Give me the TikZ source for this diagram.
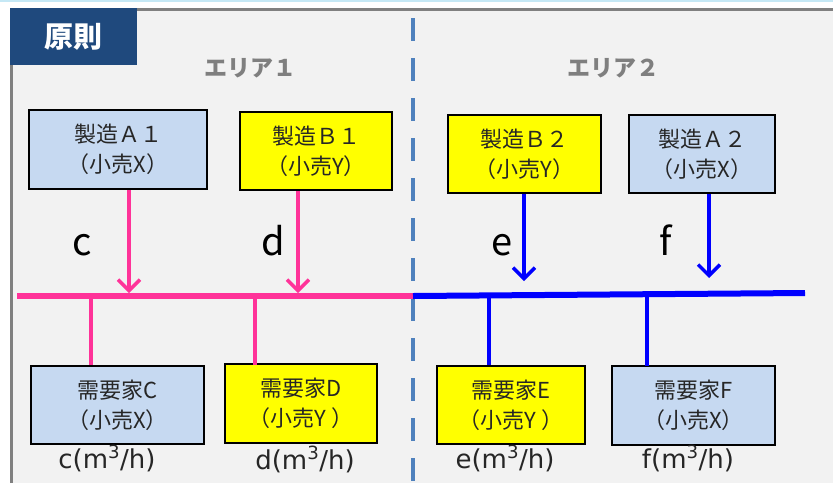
\documentclass[tikz,border=0pt]{standalone}
\usepackage{fontspec}
\setmainfont{Noto Sans CJK JP}
\newfontfamily\jp{Noto Sans CJK JP}
\newfontfamily\dv{DejaVu Sans}
\usetikzlibrary{arrows.meta}
\definecolor{framegray}{HTML}{808080}
\definecolor{bggray}{HTML}{F2F2F2}
\definecolor{titleblue}{HTML}{1F497D}
\definecolor{lightblue}{HTML}{C6D9F1}
\definecolor{boxyellow}{HTML}{FFFF00}
\definecolor{pinkline}{HTML}{FF3399}
\definecolor{blueline}{HTML}{0000FF}
\definecolor{dashblue}{HTML}{4F81BD}
\definecolor{areagray}{HTML}{7F7F7F}
\definecolor{txt}{HTML}{262626}
\definecolor{topline}{HTML}{C5E8F5}
\tikzset{
  box/.style={draw=black, line width=2pt, inner sep=0pt, align=center,
    font=\jp\fontsize{22}{30}\selectfont, text=txt},
  bluebox/.style={box, fill=lightblue},
  yellowbox/.style={box, fill=boxyellow},
  pinkw/.style={draw=pinkline, line width=4pt},
  bluew/.style={draw=blueline, line width=4.5pt},
  arr/.style={-{Straight Barb[length=11pt,width=22pt,line width=3.5pt]}},
  flowlbl/.style={anchor=base, font=\jp\fontsize{38}{40}\selectfont, text=black},
  unitlbl/.style={anchor=base, font=\dv\fontsize{26}{28}\selectfont, text=txt},
  arealbl/.style={font=\jp\bfseries\fontsize{23}{25}\selectfont, text=areagray},
}
\begin{document}
\begin{tikzpicture}[x=1pt,y=-1pt]
\useasboundingbox (0,0) rectangle (833,483);
% background and frame
\fill[white] (0,0) rectangle (833,483);
\fill[topline] (0,0) rectangle (833,1.5);
\fill[bggray] (11,9) rectangle (833,483);
\draw[framegray, line width=3pt] (11,483) -- (11,9.5) -- (833,9.5);
\fill[titleblue] (10,8) rectangle (137,65);
\node[text=white, font=\jp\bfseries\fontsize{29}{30}\selectfont] (title) at (73,37) {原則};
% area labels
\node[arealbl] (area1) at (250,68) {エリア１};
\node[arealbl] (area2) at (613,68) {エリア２};
% dashed divider
\coordinate (divT) at (413,18);
\coordinate (divB) at (413,483);
\draw[dashblue, line width=4pt, dash pattern=on 23pt off 17pt] (divT) -- (divB);
% bus lines
\coordinate (busL) at (17,296);
\coordinate (busM) at (413,296);
\coordinate (busR) at (805,293);
\draw[pinkline, line width=6pt] (busL) -- (busM);
\draw[blueline, line width=6pt] (busM) -- (busR);
% producer boxes
\node[bluebox, minimum width=178pt, minimum height=79pt] (A1) at (118,149.5) {製造Ａ１\\（小売X）};
\node[yellowbox, minimum width=152pt, minimum height=78pt] (B1) at (316,151) {製造Ｂ１\\（小売Y）};
\node[yellowbox, minimum width=153pt, minimum height=78pt] (B2) at (524.5,154) {製造Ｂ２\\（小売Y）};
\node[bluebox, minimum width=146pt, minimum height=78pt] (A2) at (702,154) {製造Ａ２\\（小売X）};
% consumer boxes
\node[bluebox, minimum width=173pt, minimum height=78pt] (C) at (117.5,405) {需要家C\\（小売X）};
\node[yellowbox, minimum width=152pt, minimum height=79pt] (D) at (301,403.5) {需要家D\\（小売Y ）};
\node[yellowbox, minimum width=148pt, minimum height=78pt] (E) at (511,405) {需要家E\\（小売Y ）};
\node[bluebox, minimum width=163pt, minimum height=79pt] (F) at (693.5,405.5) {需要家F\\（小売X）};
% supply arrows
\coordinate (inA1) at (129,293);
\coordinate (inB1) at (298,293);
\coordinate (inB2) at (524,281);
\coordinate (inA2) at (709,278);
\draw[pinkw, arr] (A1.south -| inA1) -- (inA1);
\draw[pinkw, arr] (B1.south -| inB1) -- (inB1);
\draw[bluew, arr] (B2.south -| inB2) -- (inB2);
\draw[bluew, arr] (A2.south -| inA2) -- (inA2);
% demand drops
\coordinate (outC) at (91,296);
\coordinate (outD) at (255,296);
\coordinate (outE) at (489,295);
\coordinate (outF) at (647,294);
\draw[pinkw] (outC) -- (C.north -| outC);
\draw[pinkw] (outD) -- ([yshift=-2pt]D.north -| outD);
\draw[bluew] (outE) -- (E.north -| outE);
\draw[bluew] (outF) -- ([yshift=-1pt]F.north -| outF);
% flow labels
\node[flowlbl] (lc) at (82,255) {c};
\node[flowlbl] (ld) at (273,255) {d};
\node[flowlbl] (le) at (502,255) {e};
\node[flowlbl] (lf) at (666,255) {f};
% unit labels
\node[unitlbl] (uc) at (107,468) {c(m\textsuperscript{3}/h)};
\node[unitlbl] (ud) at (305,469) {d(m\textsuperscript{3}/h)};
\node[unitlbl] (ue) at (505,468) {e(m\textsuperscript{3}/h)};
\node[unitlbl] (uf) at (688,468) {f(m\textsuperscript{3}/h)};
\end{tikzpicture}
\end{document}
